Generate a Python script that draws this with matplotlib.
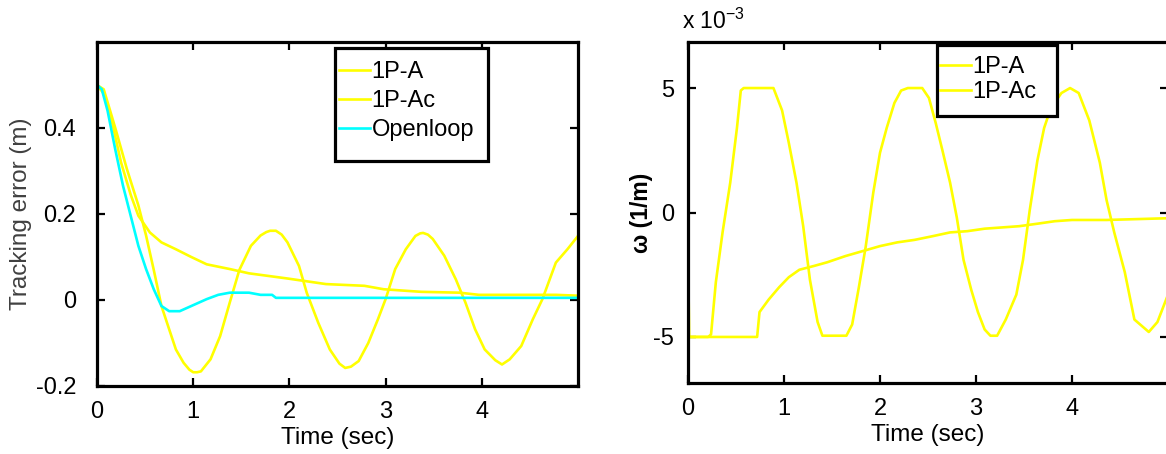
import numpy as np
import matplotlib
matplotlib.use("Agg")
import matplotlib.pyplot as plt
from matplotlib.patches import Rectangle

plt.rcParams['font.family'] = ['Liberation Sans', 'DejaVu Sans']

# ---------------- left panel data ----------------
t_a = [0, 0.07, 0.19, 0.31, 0.43, 0.51, 0.59, 0.67, 0.75, 0.82, 0.90, 0.96, 1.0, 1.04,
       1.08, 1.18, 1.28, 1.38, 1.48, 1.6, 1.7, 1.76, 1.8, 1.86, 1.92, 1.98, 2.10, 2.18,
       2.30, 2.42, 2.52, 2.58, 2.64, 2.72, 2.82, 2.92, 3.0, 3.10, 3.21, 3.31, 3.36, 3.39,
       3.44, 3.49, 3.61, 3.73, 3.83, 3.93, 4.03, 4.14, 4.21, 4.29, 4.41, 4.53, 4.63, 4.77,
       4.89, 5.0]
e_a = [0.5, 0.49, 0.40, 0.305, 0.22, 0.15, 0.07, -0.014, -0.068, -0.115, -0.146, -0.162,
       -0.168, -0.168, -0.166, -0.138, -0.084, -0.006, 0.07, 0.126, 0.15, 0.158, 0.161,
       0.161, 0.152, 0.134, 0.079, 0.017, -0.053, -0.115, -0.148, -0.158, -0.155, -0.142,
       -0.10, -0.045, 0.002, 0.072, 0.118, 0.149, 0.155, 0.156, 0.152, 0.142, 0.103, 0.048,
       -0.006, -0.068, -0.115, -0.14, -0.15, -0.138, -0.107, -0.045, 0.002, 0.087, 0.118,
       0.149]

t_ac = [0, 0.07, 0.15, 0.25, 0.35, 0.43, 0.55, 0.67, 0.82, 0.98, 1.14, 1.38, 1.58, 1.78,
        1.98, 2.38, 2.78, 2.98, 3.37, 3.77, 3.97, 4.77, 5.0]
e_ac = [0.5, 0.48, 0.42, 0.32, 0.245, 0.196, 0.157, 0.134, 0.118, 0.10, 0.083, 0.072,
        0.062, 0.056, 0.05, 0.037, 0.033, 0.025, 0.019, 0.017, 0.012, 0.012, 0.01]

t_ol = [0, 0.05, 0.11, 0.19, 0.27, 0.35, 0.43, 0.51, 0.59, 0.67, 0.75, 0.86, 0.98, 1.14,
        1.26, 1.38, 1.58, 1.70, 1.82, 1.86, 5.0]
e_ol = [0.5, 0.49, 0.44, 0.35, 0.266, 0.196, 0.126, 0.072, 0.025, -0.014, -0.026, -0.026,
        -0.014, 0.002, 0.012, 0.017, 0.017, 0.012, 0.012, 0.005, 0.005]

# ---------------- right panel data (x 1e-3) ----------------
t_wa = [0, 0.01, 0.21, 0.24, 0.29, 0.36, 0.44, 0.51, 0.55, 0.58, 0.89, 0.98, 1.05, 1.13,
        1.2, 1.27, 1.35, 1.4, 1.65, 1.71, 1.78, 1.85, 1.93, 2.0, 2.07, 2.15, 2.22, 2.29,
        2.44, 2.51, 2.58, 2.65, 2.73, 2.80, 2.87, 2.95, 3.02, 3.09, 3.15, 3.22, 3.31, 3.42,
        3.49, 3.56, 3.64, 3.71, 3.78, 3.89, 3.98, 4.07, 4.18, 4.29, 4.36, 4.44, 4.55, 4.65,
        4.8, 4.89, 4.97, 5.0]
w_a = [0, -5, -5, -4.9, -2.8, -0.8, 1.2, 3.4, 4.9, 5, 5, 4.1, 2.8, 1.2, -0.55, -2.7, -4.4,
       -4.95, -4.95, -4.5, -3.0, -1.4, 0.8, 2.4, 3.4, 4.4, 4.9, 5, 5, 4.6, 3.6, 2.5, 1.2,
       -0.2, -1.9, -3.1, -4.0, -4.7, -4.95, -4.95, -4.3, -3.3, -1.9, 0.1, 2.1, 3.4, 4.2,
       4.8, 5, 4.8, 3.7, 2.0, 0.5, -0.8, -2.4, -4.3, -4.8, -4.4, -3.6, -3.3]

t_wac = [0, 0.01, 0.72, 0.745, 0.84, 0.95, 1.05, 1.16, 1.31, 1.45, 1.64, 1.82, 2.0, 2.18,
         2.36, 2.55, 2.73, 2.91, 3.09, 3.27, 3.45, 3.64, 3.82, 4.0, 4.36, 5.0]
w_ac = [0, -5, -5, -4.0, -3.5, -3.0, -2.6, -2.3, -2.15, -2.0, -1.75, -1.55, -1.35, -1.2,
        -1.1, -0.95, -0.8, -0.75, -0.65, -0.6, -0.55, -0.45, -0.35, -0.3, -0.3, -0.23]

YELLOW = '#FFFF00'
CYAN = '#00FFFF'
FS = 17

fig = plt.figure(figsize=(11.66, 4.54), dpi=100)


def style(ax, ypad):
    for s in ax.spines.values():
        s.set_linewidth(2.3)
        s.set_color('black')
    ax.tick_params(direction='in', length=6, width=1.6, top=True, right=True,
                   labelsize=FS, colors='black')
    ax.tick_params(axis='x', pad=11)
    ax.tick_params(axis='y', pad=ypad)


def frame_legend(ax, x0, y0, w, h):
    ax.add_patch(Rectangle((x0, y0), w, h, transform=ax.transAxes, facecolor='white',
                           edgecolor='black', lw=2.3, zorder=5, clip_on=False))


# left
ax1 = fig.add_axes([97/1166, 68/454, 481/1166, 344/454])
ax1.plot(t_a, e_a, color=YELLOW, lw=1.9, label='1P-A')
ax1.plot(t_ac, e_ac, color=YELLOW, lw=1.9, label='1P-Ac')
ax1.plot(t_ol, e_ol, color=CYAN, lw=1.9, label='Openloop')
ax1.set_xlim(0, 5)
ax1.set_ylim(-0.2, 0.6)
ax1.set_xticks([0, 1, 2, 3, 4])
ax1.set_yticks([-0.2, 0, 0.2, 0.4])
ax1.set_yticklabels(['-0.2', '0', '0.2', '0.4'])
style(ax1, 15)
ax1.set_xlabel('Time (sec)', fontsize=17.5, labelpad=3)
ax1.set_ylabel('Tracking error (m)', fontsize=17.5, color='#404040', labelpad=3)
frame_legend(ax1, (335-97)/481, (385-160)/344, 153/481, 113/344)
leg1 = ax1.legend(loc='upper left', bbox_to_anchor=((339-97)/481, (385-60)/344),
                  fontsize=FS, frameon=False, handlelength=1.3, handletextpad=0.08,
                  borderpad=0, labelspacing=0.3, borderaxespad=0)
leg1.set_zorder(6)

# right
ax2 = fig.add_axes([688/1166, 71/454, 480/1166, 341/454])
ax2.plot(t_wa, np.array(w_a) * 1e-3, color=YELLOW, lw=1.9, label='1P-A')
ax2.plot(t_wac, np.array(w_ac) * 1e-3, color=YELLOW, lw=1.9, label='1P-Ac')
ax2.set_xlim(0, 5)
ax2.set_ylim(-6.85e-3, 6.85e-3)
ax2.set_xticks([0, 1, 2, 3, 4])
ax2.set_yticks([-5e-3, 0, 5e-3])
ax2.set_yticklabels(['-5', '0', '5'])
style(ax2, 10)
ax2.set_xlabel('Time (sec)', fontsize=17.5, labelpad=3)
ax2.set_ylabel('ω (1/m)', fontsize=16.5, fontweight='bold', labelpad=0)
fig.text(682/1166, 1 - 29/454, r'x 10$^{\mathregular{-3}}$', fontsize=16.5, va='baseline')
frame_legend(ax2, (937-688)/480, (383-116)/341, 120/480, 71/341)
leg2 = ax2.legend(loc='upper left', bbox_to_anchor=((940-688)/480, (383-56)/341),
                  fontsize=FS, frameon=False, handlelength=1.3, handletextpad=0.08,
                  borderpad=0, labelspacing=0.12, borderaxespad=0)
leg2.set_zorder(6)

fig.savefig('out.png', dpi=100)
